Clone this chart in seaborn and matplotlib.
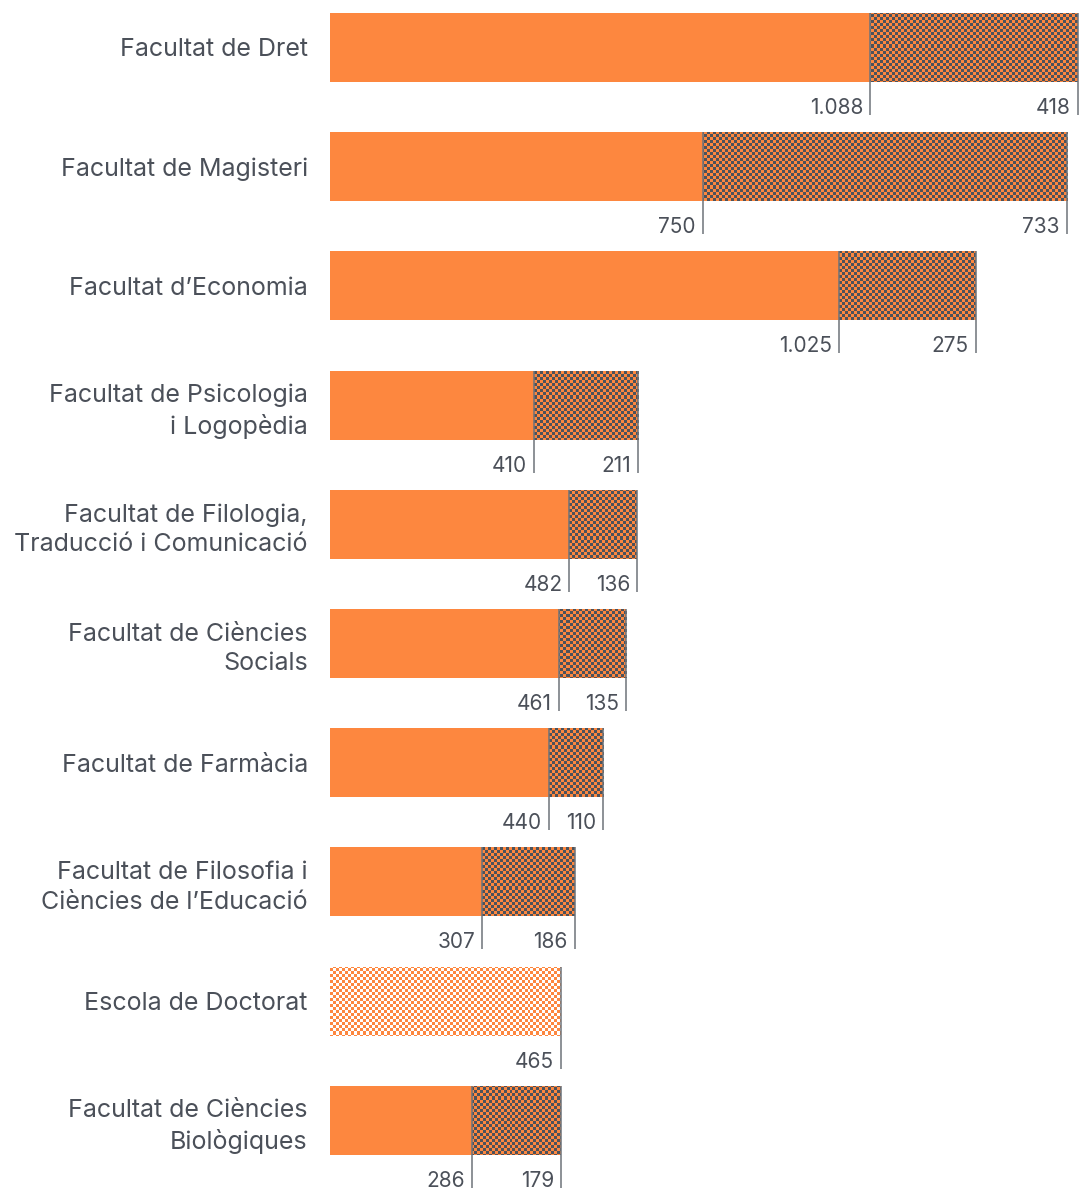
import numpy as np
import pandas as pd
import matplotlib
matplotlib.use("Agg")
import matplotlib.pyplot as plt
from matplotlib.patches import Rectangle
import seaborn as sns

# Data
labels = [
    "Facultat de Dret",
    "Facultat de Magisteri",
    "Facultat d\u2019Economia",
    "Facultat de Psicologia\ni Logop\u00e8dia",
    "Facultat de Filologia,\nTraducci\u00f3 i Comunicaci\u00f3",
    "Facultat de Ci\u00e8ncies\nSocials",
    "Facultat de Farm\u00e0cia",
    "Facultat de Filosofia i\nCi\u00e8ncies de l\u2019Educaci\u00f3",
    "Escola de Doctorat",
    "Facultat de Ci\u00e8ncies\nBiol\u00f2giques",
]
first = [1088, 750, 1025, 410, 482, 461, 440, 307, 0, 286]
second = [418, 733, 275, 211, 136, 135, 110, 186, 465, 179]
light = [False] * 8 + [True] + [False]   # Escola de Doctorat uses the light pattern

ORANGE = "#FD873F"
DARK = "#4C525B"
TEXT = "#4B5059"
LINE = "#6E7379"

df = pd.DataFrame({"label": labels, "first": first, "second": second})
df["total"] = df["first"] + df["second"]

sns.set_style("white")
plt.rcParams["font.family"] = ["Inter", "DejaVu Sans"]

W, H = 1081, 1190
fig = plt.figure(figsize=(W / 100, H / 100), dpi=100)
ax = fig.add_axes([330 / W, 0, (W - 330) / W, 1])

BAR_H = 0.579
sns.barplot(data=df, x="total", y="label", color=ORANGE, width=BAR_H,
            saturation=1, edgecolor="none", ax=ax)

xmax = (W - 330) / 0.4967
YLIM = (9.585, -0.398)

# checker overlays (pixel grid of 3 px cells)
ax_w, ax_h = W - 330, H
cell = 3
ny, nx = ax_h // cell + 1, ax_w // cell + 1
yy, xx = np.mgrid[0:ny, 0:nx]
mask = ((xx + yy) % 2 == 0).astype(float)

def checker(rgb):
    img = np.zeros((ny, nx, 4))
    img[..., :3] = matplotlib.colors.to_rgb(rgb)
    img[..., 3] = mask
    return img

bars = list(ax.patches)
h = bars[0].get_height()
for i, p in enumerate(bars):
    y0 = p.get_y()
    rect = Rectangle((df["first"][i], y0), df["second"][i], h,
                     transform=ax.transData, facecolor="none", edgecolor="none")
    ax.add_patch(rect)
    im = ax.imshow(checker("white" if light[i] else DARK),
                   extent=[0, 1, 0, 1], transform=ax.transAxes,
                   aspect="auto", interpolation="nearest", zorder=3)
    im.set_clip_path(rect)

ax.set_xlim(0, xmax)
ax.set_ylim(*YLIM)

def fmt(v):
    return f"{v:,}".replace(",", ".")

px = xmax / ax_w
unit_px = H / (YLIM[0] - YLIM[1])
for i in range(len(df)):
    top = i - h / 2
    bottom = i + h / 2
    ends = []
    if df["first"][i] > 0:
        ends.append((df["first"][i], df["first"][i]))
    ends.append((df["total"][i], df["second"][i]))
    for xe, v in ends:
        ax.vlines(xe, top, bottom + 33 / unit_px, color=LINE, lw=1.1, zorder=4)
        ax.text(xe - 7 * px, bottom + 32 / unit_px, fmt(v), ha="right", va="baseline",
                fontsize=15, color=TEXT)

ax.set_yticks(range(len(df)))
ax.set_yticklabels(labels, fontsize=18, color=TEXT, linespacing=1.35)
ax.tick_params(axis="y", length=0, pad=16)
ax.set_xticks([])
ax.set_xlabel("")
ax.set_ylabel("")
sns.despine(ax=ax, left=True, bottom=True)

fig.savefig("out.png", dpi=100)
